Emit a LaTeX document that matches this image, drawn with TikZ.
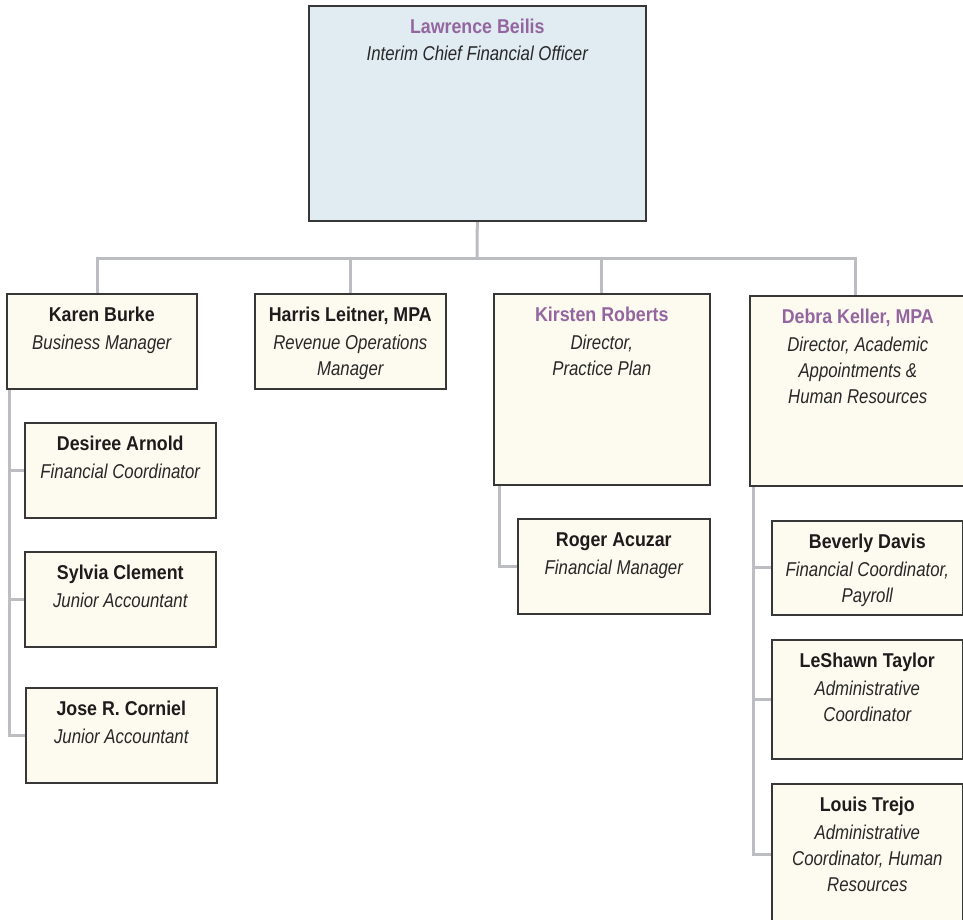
\documentclass[tikz,border=0pt]{standalone}
\usepackage{fontspec}
\setmainfont{Liberation Sans}[FakeStretch=0.84]
\newfontfamily\nmfont{Liberation Sans}[FakeStretch=0.89]
\usetikzlibrary{backgrounds,calc}
\definecolor{purp}{RGB}{148,102,160}
\definecolor{namec}{RGB}{30,27,28}
\definecolor{titlec}{RGB}{40,40,40}
\definecolor{cream}{RGB}{253,251,240}
\definecolor{paleblue}{RGB}{224,235,242}
\definecolor{boxline}{RGB}{55,55,55}
\definecolor{connc}{RGB}{188,189,194}
\tikzset{
  box/.style={draw=boxline, line width=1.6pt, fill=cream, anchor=north west, inner sep=0pt},
  topbox/.style={box, fill=paleblue},
  conn/.style={draw=connc, line width=3pt},
  txt/.style={anchor=north, align=center, inner sep=0pt, font=\fontsize{20}{26}\selectfont, text=titlec},
}
\newcommand\nm[2][namec]{{\nmfont\bfseries\color{#1}#2}}
\newcommand\orgbox[7]{%
  \node[#6, minimum width=#4pt, minimum height=#5pt] (#1) at (#2,#3) {};
  \node[txt] (#1t) at ($(#1.north)+(0,13)$) {\rule{0pt}{15pt}#7};
}
\begin{document}
\begin{tikzpicture}[x=1pt,y=-1pt]
\useasboundingbox (0,0) rectangle (963,919);
\clip (0,0) rectangle (963,919);
\orgbox{lb}{308}{5}{337}{215}{topbox}{\nm[purp]{Lawrence Beilis}\\[1pt]\itshape Interim Chief Financial Officer}
\orgbox{kb}{6}{293}{190}{95}{box}{\nm{Karen Burke}\\[2pt]\itshape Business Manager}
\orgbox{hl}{254}{293}{191}{95}{box}{\nm{Harris Leitner, MPA}\\[2pt]\itshape Revenue Operations\\\itshape Manager}
\orgbox{kr}{493}{293}{216}{191}{box}{\nm[purp]{Kirsten Roberts}\\[2pt]\itshape Director,\\\itshape Practice Plan}
\orgbox{dk}{749}{295}{216}{190}{box}{\nm[purp]{Debra Keller, MPA}\\[2pt]\itshape Director, Academic\\\itshape Appointments \&\\\itshape Human Resources}
\orgbox{da}{24}{422}{191}{95}{box}{\nm{Desiree Arnold}\\[2pt]\itshape Financial Coordinator}
\orgbox{sc}{24}{551}{191}{95}{box}{\nm{Sylvia Clement}\\[2pt]\itshape Junior Accountant}
\orgbox{jc}{25}{687}{191}{95}{box}{\nm{Jose R. Corniel}\\[2pt]\itshape Junior Accountant}
\orgbox{ra}{517}{518}{192}{95}{box}{\nm{Roger Acuzar}\\[2pt]\itshape Financial Manager}
\orgbox{bd}{771}{520}{191}{94}{box}{\nm{Beverly Davis}\\[2pt]\itshape Financial Coordinator,\\\itshape Payroll}
\orgbox{lt}{771}{639}{191}{119}{box}{\nm{LeShawn Taylor}\\[2pt]\itshape Administrative\\\itshape Coordinator}
\orgbox{lo}{771}{783}{191}{142}{box}{\nm{Louis Trejo}\\[2pt]\itshape Administrative\\\itshape Coordinator, Human\\\itshape Resources}
\begin{pgfonlayer}{background}
  \coordinate (bus) at (477,258);
  \draw[conn] (lb.south) -- (bus);
  \draw[conn] ($(kb.north)+(-4,0)$) |- (bus);
  \draw[conn] (hl.north) |- (bus);
  \draw[conn] (kr.north) |- (bus);
  \draw[conn] ($(dk.north)+(-2,0)$) |- (bus);
  \draw[conn] ($(kb.south west)+(3,0)$) |- (da.west);
  \draw[conn] ($(kb.south west)+(3,0)$) |- (sc.west);
  \draw[conn] ($(kb.south west)+(3,0)$) |- (jc.west);
  \draw[conn] ($(kr.south west)+(6,0)$) |- (ra.west);
  \draw[conn] ($(dk.south west)+(4,0)$) |- (bd.west);
  \draw[conn] ($(dk.south west)+(4,0)$) |- (lt.west);
  \draw[conn] ($(dk.south west)+(4,0)$) |- (lo.west);
\end{pgfonlayer}
\end{tikzpicture}
\end{document}
